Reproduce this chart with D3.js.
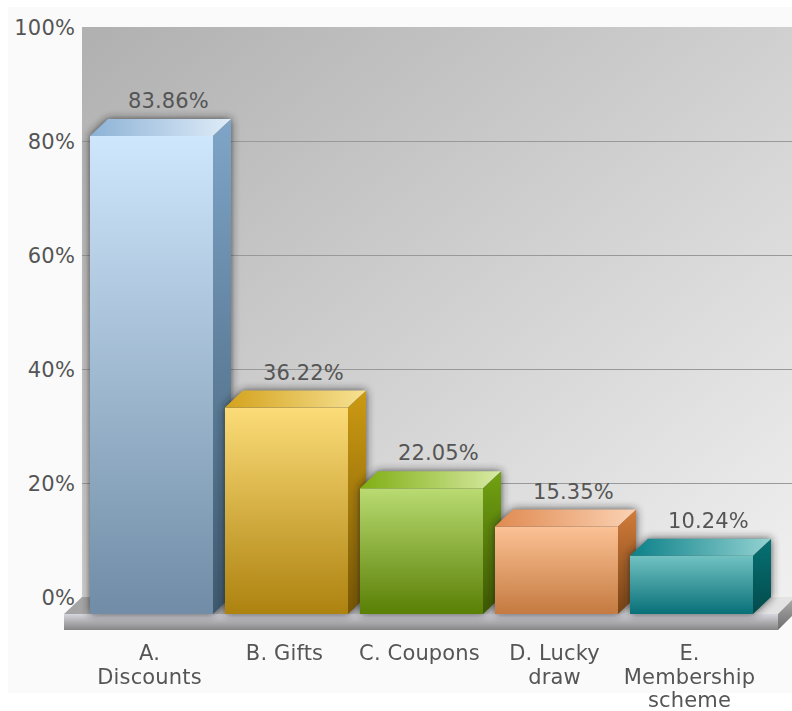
<!DOCTYPE html>
<html>
<head>
<meta charset="utf-8">
<script src="https://cdn.jsdelivr.net/npm/d3@7"></script>
<style>
html, body { margin: 0; padding: 0; background: #fff; }
svg { display: block; filter: blur(0.45px); }
text { font-family: "DejaVu Sans", sans-serif; font-size: 21px; letter-spacing: 0.15px; fill: #555; }
.domain { display: none; }
</style>
</head>
<body>
<svg id="chart" width="792" height="711"></svg>
<script>
var categories = ['A.\nDiscounts', 'B. Gifts', 'C. Coupons', 'D. Lucky\ndraw', 'E.\nMembership\nscheme'];
var values = [83.86, 36.22, 22.05, 15.35, 10.24];
var tickValues = [0, 20, 40, 60, 80, 100];

// [front top, front bottom, side top, side bottom, lid left, lid right]
var barColors = [
    ['#cfe7fc', '#708ca6', '#7fa5c8', '#3e596f', '#8db2d6', '#dfecf8'],
    ['#fcdc78', '#ad820f', '#cc9a12', '#775705', '#d4a21c', '#f7e294'],
    ['#b9db72', '#5a7f05', '#72a212', '#3d5803', '#7fae12', '#d8eaa4'],
    ['#fcc295', '#c47a40', '#d27c3a', '#774316', '#e08a50', '#fbd2b4'],
    ['#72c2c2', '#087078', '#067274', '#034a4c', '#0a8088', '#94d2d2']
];

var depthX = 18, depthY = 17;
var wallLeft = 82, wallRight = 792;

var svg = d3.select('#chart');
var defs = svg.append('defs');

var x = d3.scaleBand().domain(categories).range([84, 759]).paddingInner(0.089).paddingOuter(0.0445);
var y = d3.scaleLinear().domain([0, 100]).range([597, 27]);
var floorY = y(0) + depthY;

function addGradient(id, x2, y2, stops) {
    var g = defs.append('linearGradient').attr('id', id)
        .attr('x1', 0).attr('y1', 0).attr('x2', x2).attr('y2', y2);
    stops.forEach(function(s) {
        g.append('stop').attr('offset', s[0]).attr('stop-color', s[1]);
    });
}

addGradient('wall', 1, 1, [[0, '#b0b0b0'], [1, '#f0f0f0']]);
addGradient('floorTop', 1, 0, [[0, '#a4a4a4'], [0.5, '#c6c6c6'], [1, '#e4e4e4']]);
addGradient('floorFront', 0, 1, [[0, '#d6d6de'], [1, '#858585']]);
addGradient('floorSide', 0, 1, [[0, '#a8a8a8'], [1, '#6e6e6e']]);
barColors.forEach(function(c, i) {
    addGradient('front' + i, 0, 1, [[0, c[0]], [1, c[1]]]);
    addGradient('side' + i, 0, 1, [[0, c[2]], [1, c[3]]]);
    addGradient('lid' + i, 1, 0, [[0, c[4]], [1, c[5]]]);
});
defs.append('filter').attr('id', 'halo')
    .attr('x', '-20%').attr('y', '-20%').attr('width', '140%').attr('height', '140%')
    .append('feGaussianBlur').attr('stdDeviation', 4);

// page panel
svg.append('rect').attr('x', 8).attr('y', 7).attr('width', 784).attr('height', 686).attr('fill', '#fafafa');

// back wall
svg.append('rect')
    .attr('x', wallLeft).attr('y', y(100))
    .attr('width', wallRight - wallLeft).attr('height', y(0) - y(100) + 2)
    .attr('fill', 'url(#wall)');

// grid and tick labels
var axis = svg.append('g')
    .attr('transform', 'translate(' + wallLeft + ',0)')
    .call(d3.axisLeft(y)
        .tickValues(tickValues)
        .tickFormat(function(d) { return d + '%'; })
        .tickSizeInner(-(wallRight - wallLeft))
        .tickSizeOuter(0)
        .tickPadding(7));
axis.attr('font-family', null).attr('font-size', null);
axis.selectAll('line')
    .attr('stroke', '#999')
    .attr('stroke-width', 1.2)
    .attr('opacity', function(d) { return d === 100 ? 0 : 1; });
axis.selectAll('text').attr('dy', '0.34em');

// floor
function pts(list) { return list.map(function(p) { return p.join(','); }).join(' '); }
var floorLeft = x(categories[0]) - 26, floorRight = floorLeft + 714;
svg.append('polygon')
    .attr('points', pts([[floorLeft, floorY], [floorLeft + depthX, y(0)], [floorRight + depthX, y(0)], [floorRight, floorY]]))
    .attr('fill', 'url(#floorTop)');
svg.append('rect')
    .attr('x', floorLeft).attr('y', floorY).attr('width', floorRight - floorLeft).attr('height', 16)
    .attr('fill', 'url(#floorFront)');
svg.append('polygon')
    .attr('points', pts([[floorRight, floorY], [floorRight + 14, floorY - 14], [floorRight + 14, floorY + 2], [floorRight, floorY + 16]]))
    .attr('fill', 'url(#floorSide)');

// bars
var bars = svg.selectAll('.bar')
    .data(values)
    .enter().append('g')
    .attr('class', 'bar');

function outline(d, i) {
    var l = x(categories[i]), r = l + x.bandwidth(), top = y(d) + depthY;
    return pts([[l, top], [l + depthX, y(d)], [r + depthX, y(d)], [r + depthX, y(0)], [r, floorY], [l, floorY]]);
}

bars.append('polygon')
    .attr('points', outline)
    .attr('fill', '#222')
    .attr('opacity', 0.8)
    .attr('filter', 'url(#halo)');

bars.append('rect')
    .attr('x', function(d, i) { return x(categories[i]); })
    .attr('y', function(d) { return y(d) + depthY; })
    .attr('width', x.bandwidth())
    .attr('height', function(d) { return y(0) - y(d); })
    .attr('fill', function(d, i) { return 'url(#front' + i + ')'; });

bars.append('polygon')
    .attr('points', function(d, i) {
        var r = x(categories[i]) + x.bandwidth();
        return pts([[r, y(d) + depthY], [r + depthX, y(d)], [r + depthX, y(0)], [r, floorY]]);
    })
    .attr('fill', function(d, i) { return 'url(#side' + i + ')'; });

bars.append('polygon')
    .attr('points', function(d, i) {
        var l = x(categories[i]), r = l + x.bandwidth();
        return pts([[l, y(d) + depthY], [l + depthX, y(d)], [r + depthX, y(d)], [r, y(d) + depthY]]);
    })
    .attr('fill', function(d, i) { return 'url(#lid' + i + ')'; });

// value labels
bars.append('text')
    .attr('x', function(d, i) { return x(categories[i]) + x.bandwidth() / 2 + 17; })
    .attr('y', function(d) { return y(d) - 11; })
    .attr('text-anchor', 'middle')
    .text(function(d) { return d.toFixed(2) + '%'; });

// category labels
svg.selectAll('.category')
    .data(categories)
    .enter().append('text')
    .attr('class', 'category')
    .attr('text-anchor', 'middle')
    .each(function(d) {
        var cx = x(d) + x.bandwidth() / 2 - 2;
        d3.select(this).selectAll('tspan')
            .data(d.split('\n'))
            .enter().append('tspan')
            .attr('x', cx)
            .attr('y', function(line, j) { return 660 + j * 23.5; })
            .text(function(line) { return line; });
    });
</script>
</body>
</html>
